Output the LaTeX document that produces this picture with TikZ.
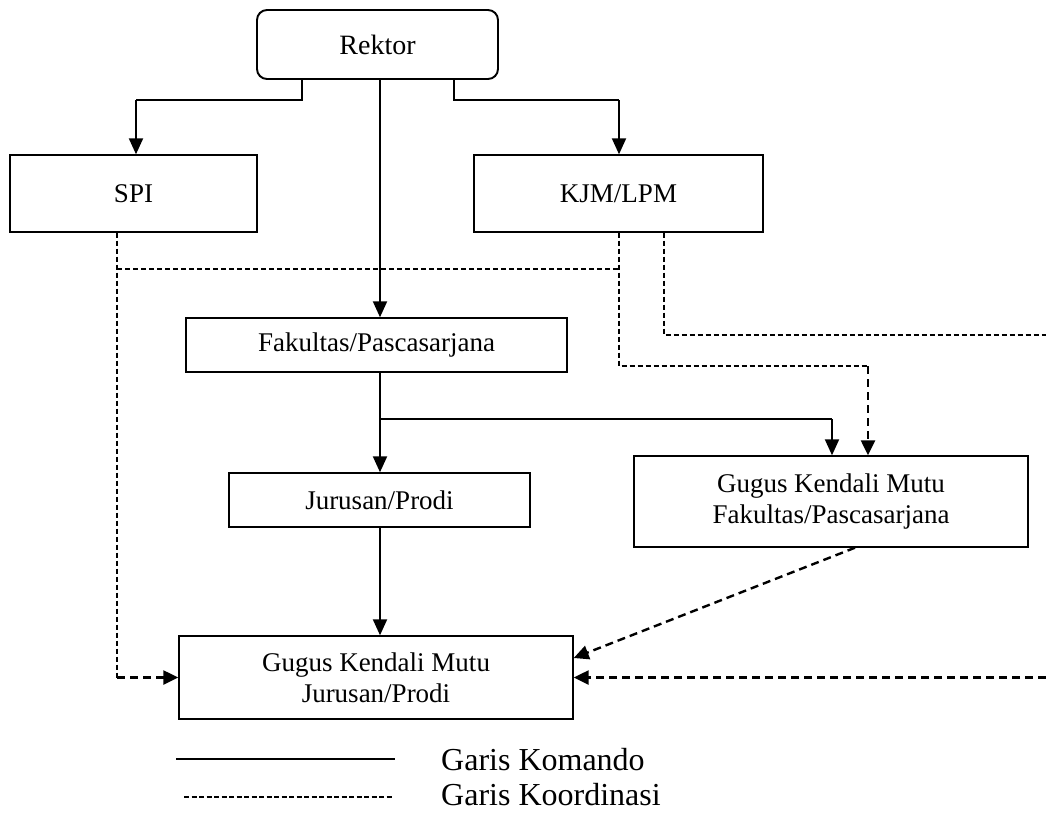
\documentclass[tikz,border=0pt]{standalone}
\usepackage{fontspec}
\setmainfont{Liberation Serif}
\usetikzlibrary{arrows.meta}
\begin{document}
\begin{tikzpicture}[x=1pt,y=-1pt,
  box/.style={draw=black, line width=1.4pt, inner sep=0pt, align=center,
    font=\fontsize{27}{31}\selectfont},
  thinline/.style={line width=1.2pt},
  cmdarrow/.style={line width=2pt, -{Triangle[length=16pt,width=14pt]}},
  coord/.style={line width=1.2pt, dash pattern=on 5pt off 3pt},
  coordarrow/.style={line width=2.4pt, dash pattern=on 8pt off 5pt, -{Triangle[length=15pt,width=14pt]}},
  legdash/.style={line width=1.5pt, dash pattern=on 5pt off 2.5pt},
  legtext/.style={anchor=west, inner sep=0pt, font=\fontsize{32}{36}\selectfont}]
\useasboundingbox (0,0) rectangle (1046,812);

% boxes
\node[box, line width=1.9pt, rounded corners=10pt, minimum width=241pt, minimum height=69pt,
  font=\fontsize{28}{32}\selectfont] (rek) at (377.5,44.5) {Rektor};
\node[box, minimum width=247pt, minimum height=77pt] (spi) at (133.5,193.5) {SPI};
\node[box, minimum width=289pt, minimum height=77pt] (kjm) at (618.5,193.5) {KJM/LPM};
\node[box, minimum width=381pt, minimum height=54pt] (fak) at (376.5,345) {Fakultas/Pascasarjana};
\node[box, minimum width=301pt, minimum height=54pt] (jur) at (379.5,500) {Jurusan/Prodi};
\node[box, minimum width=394pt, minimum height=91pt] (gkf) at (831,501.5) {Gugus Kendali Mutu\\Fakultas/Pascasarjana};
\node[box, minimum width=394pt, minimum height=83pt] (gkj) at (376,677.5) {Gugus Kendali Mutu\\Jurusan/Prodi};

% command lines
\coordinate (c1) at (302,100);
\coordinate (c2) at (136,100);
\coordinate (c3) at (454,100);
\coordinate (c4) at (619,100);
\coordinate (cx) at (380,0);
\draw[thinline] (c1 |- rek.south) -- (c1) -- (c2);
\draw[cmdarrow] (c2) -- (c2 |- spi.north);
\draw[thinline] (c3 |- rek.south) -- (c3) -- (c4);
\draw[cmdarrow] (c4) -- (c4 |- kjm.north);
\draw[cmdarrow] (cx |- rek.south) -- (cx |- fak.north);
\draw[cmdarrow] (cx |- fak.south) -- (cx |- jur.north);
\coordinate (h1) at (380,419);
\coordinate (h2) at (832,419);
\draw[thinline] (h1) -- (h2);
\draw[cmdarrow] (h2) -- (h2 |- gkf.north);
\draw[cmdarrow] (cx |- jur.south) -- (cx |- gkj.north);

% coordination lines
\coordinate (d1) at (117,269);
\coordinate (d2) at (117,677.5);
\coordinate (k1) at (619,366);
\coordinate (k2) at (868,366);
\coordinate (k3) at (664,335);
\coordinate (k4) at (1046,335);
\coordinate (r1) at (1046,677.5);
\coordinate (g1) at (855,0);
\draw[coord] (d1 |- spi.south) -- (d2);
\draw[coordarrow] (d2) -- (gkj.west);
\draw[coord] (d1) -- (d1 -| k1);
\draw[coord] (k1 |- kjm.south) -- (k1) -- (k2);
\draw[coordarrow] (k2) -- (k2 |- gkf.north);
\draw[coord] (k3 |- kjm.south) -- (k3) -- (k4);
\draw[coordarrow] (r1) -- (gkj.east);
\draw[coordarrow] (g1 |- gkf.south) -- ([yshift=19.5pt]gkj.east);

% legend
\coordinate (l1) at (176,759);
\coordinate (l2) at (395,759);
\coordinate (l3) at (184,797);
\coordinate (l4) at (393,797);
\draw[thinline] (l1) -- (l2);
\draw[legdash] (l3) -- (l4);
\node[legtext] (t1) at (441,760) {Garis Komando};
\node[legtext] (t2) at (441,795) {Garis Koordinasi};
\end{tikzpicture}
\end{document}
